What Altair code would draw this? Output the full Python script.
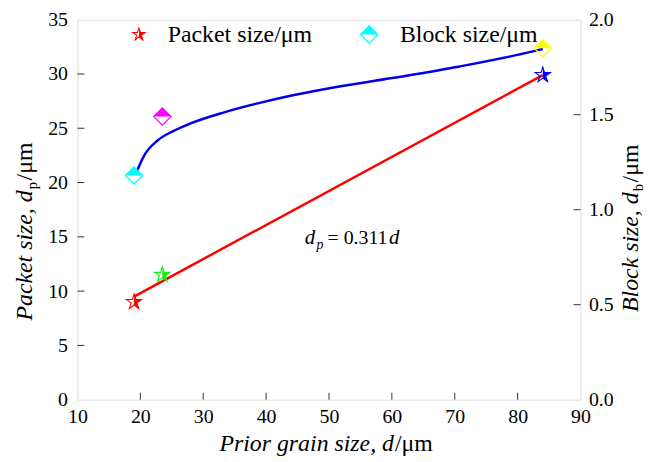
import altair as alt
import pandas as pd

# ---------------- data ----------------
grain = [19.0, 23.5, 84.0]
packet = [9.0, 11.5, 29.9]
block = [1.18, 1.49, 1.85]
star_colors = ["#ff0000", "#11ee11", "#0000ff"]
diamond_colors = ["#00ffff", "#ff00ff", "#ffff00"]

fit_x = [19.0, 84.0]
fit_packet = [9.5, 29.9]

curve_x = [19.5, 20.6, 22.7, 25.3, 27.9, 33.2, 38.5, 43.7, 49.0, 60.3, 70.8, 82.4, 84.0]
curve_block = [1.206, 1.285, 1.363, 1.415, 1.453, 1.511, 1.558, 1.598, 1.633, 1.694, 1.754, 1.833, 1.846]

x_ticks = [10, 20, 30, 40, 50, 60, 70, 80, 90]
left_ticks = [0, 5, 10, 15, 20, 25, 30, 35]
right_ticks = [0.0, 0.5, 1.0, 1.5, 2.0]

# ---------------- layout ----------------
W, H = 507, 383
FONT = "Liberation Serif, Times New Roman, Times, Noto Serif, DejaVu Serif, serif"
TICK = 7

STAR = ("M0,-1L0.2245,-0.309L0.951,-0.309L0.3633,0.118L0.588,0.809L0,0.382"
        "L-0.588,0.809L-0.3633,0.118L-0.951,-0.309L-0.2245,-0.309Z")
HALF_STAR = "M0,-1L0.2245,-0.309L0.951,-0.309L0.3633,0.118L0.588,0.809L0,0.382Z"
DIAMOND = "M0,-1L1,0L0,1L-1,0Z"
HALF_DIAMOND = "M0,-1L1,0L-1,0Z"

xs = alt.Scale(domain=[10, 90], nice=False, zero=False)
yl = alt.Scale(domain=[0, 35], nice=False)
yr = alt.Scale(domain=[0, 2], nice=False)

x_axis = alt.Axis(values=x_ticks, tickSize=0, domain=False, grid=False, title=None,
                  labelFont=FONT, labelFontSize=20, labelColor="black", labelPadding=7,
                  labelOverlap=False, labelFlush=False)
X = lambda f: alt.X(f, type="quantitative", scale=xs, axis=x_axis)

stars_df = pd.DataFrame({"grain": grain, "packet": packet, "c": star_colors})
diam_df = pd.DataFrame({"grain": grain, "block": block, "c": diamond_colors})
fit_df = pd.DataFrame({"grain": fit_x, "packet": fit_packet})
curve_df = pd.DataFrame({"grain": curve_x, "block": curve_block})

# inner ticks + axis labels
left_axis = alt.Chart(pd.DataFrame({"v": left_ticks[1:-1]})).mark_rule(color="#333", strokeWidth=1).encode(
    y=alt.Y("v:Q", scale=yl, axis=alt.Axis(orient="left", values=left_ticks, tickSize=0, domain=False,
                                           grid=False, title=None, labelFont=FONT, labelFontSize=20,
                                           labelColor="black", labelPadding=10, labelFlush=False)),
    x=alt.value(0), x2=alt.value(TICK))
right_axis = alt.Chart(pd.DataFrame({"v": right_ticks[1:-1]})).mark_rule(color="#333", strokeWidth=1).encode(
    y=alt.Y("v:Q", scale=yr, axis=alt.Axis(orient="right", values=right_ticks, format=".1f", tickSize=0,
                                           domain=False, grid=False, title=None, labelFont=FONT,
                                           labelFontSize=20, labelColor="black", labelPadding=8,
                                           labelFlush=False)),
    x=alt.value(W - TICK), x2=alt.value(W))
bottom_axis = alt.Chart(pd.DataFrame({"v": x_ticks[1:-1]})).mark_rule(color="#333", strokeWidth=1).encode(
    x=X("v"), y=alt.value(H), y2=alt.value(H - TICK))

fit_line = alt.Chart(fit_df).mark_line(color="#ff0000", strokeWidth=2.5).encode(
    x=X("grain"), y=alt.Y("packet:Q", scale=yl, axis=None))
curve_line = alt.Chart(curve_df).mark_line(color="#0000ee", strokeWidth=2.5, interpolate="monotone").encode(
    x=X("grain"), y=alt.Y("block:Q", scale=yr, axis=None))

star_out = alt.Chart(stars_df).mark_point(shape=STAR, filled=False, size=260, strokeWidth=1.1, opacity=1).encode(
    x=X("grain"), y=alt.Y("packet:Q", scale=yl, axis=None), color=alt.Color("c:N", scale=None))
star_in = alt.Chart(stars_df).mark_point(shape=HALF_STAR, filled=True, size=260, opacity=1).encode(
    x=X("grain"), y=alt.Y("packet:Q", scale=yl, axis=None), color=alt.Color("c:N", scale=None))
dia_out = alt.Chart(diam_df).mark_point(shape=DIAMOND, filled=False, size=300, strokeWidth=1.3, opacity=1).encode(
    x=X("grain"), y=alt.Y("block:Q", scale=yr, axis=None), color=alt.Color("c:N", scale=None))
dia_in = alt.Chart(diam_df).mark_point(shape=HALF_DIAMOND, filled=True, size=300, opacity=1).encode(
    x=X("grain"), y=alt.Y("block:Q", scale=yr, axis=None), color=alt.Color("c:N", scale=None))

# legend
one = pd.DataFrame({"a": [0]})
leg = [
    alt.Chart(one).mark_point(shape=STAR, filled=False, size=170, strokeWidth=1.1, color="#ff0000", opacity=1).encode(
        x=alt.value(62), y=alt.value(15)),
    alt.Chart(one).mark_point(shape=HALF_STAR, filled=True, size=170, color="#ff0000", opacity=1).encode(
        x=alt.value(62), y=alt.value(15)),
    alt.Chart(one).mark_text(text="Packet size/μm", font=FONT, fontSize=24, align="left", baseline="middle",
                             color="black").encode(x=alt.value(91), y=alt.value(16)),
    alt.Chart(one).mark_point(shape=DIAMOND, filled=False, size=300, strokeWidth=1.3, color="#00ffff", opacity=1).encode(
        x=alt.value(294), y=alt.value(15)),
    alt.Chart(one).mark_point(shape=HALF_DIAMOND, filled=True, size=300, color="#00ffff", opacity=1).encode(
        x=alt.value(294), y=alt.value(15)),
    alt.Chart(one).mark_text(text="Block size/μm", font=FONT, fontSize=24, align="left", baseline="middle",
                             color="black").encode(x=alt.value(325), y=alt.value(16)),
]

# annotation d_p = 0.311d
ann = [
    alt.Chart(one).mark_text(text="d", font=FONT, fontSize=21, fontStyle="italic", align="left",
                             baseline="alphabetic", color="black").encode(x=alt.value(229), y=alt.value(226)),
    alt.Chart(one).mark_text(text="p", font=FONT, fontSize=14, fontStyle="italic", align="left",
                             baseline="alphabetic", color="black").encode(x=alt.value(241), y=alt.value(231)),
    alt.Chart(one).mark_text(text="= 0.311", font=FONT, fontSize=20, align="left",
                             baseline="alphabetic", color="black").encode(x=alt.value(252), y=alt.value(226)),
    alt.Chart(one).mark_text(text="d", font=FONT, fontSize=21, fontStyle="italic", align="left",
                             baseline="alphabetic", color="black").encode(x=alt.value(314), y=alt.value(226)),
]

# axis titles (manual, to allow subscripts)
titles = [
    alt.Chart(one).mark_text(text="Prior grain size, d", font=FONT, fontSize=24, fontStyle="italic",
                             align="right", baseline="alphabetic", color="black").encode(
        x=alt.value(319), y=alt.value(435)),
    alt.Chart(one).mark_text(text=" /μm", font=FONT, fontSize=24, align="left", baseline="alphabetic",
                             color="black").encode(x=alt.value(320), y=alt.value(435)),
    # left
    alt.Chart(one).mark_text(text="Packet size, d", font=FONT, fontSize=24, fontStyle="italic", angle=270,
                             align="right", baseline="alphabetic", color="black").encode(
        x=alt.value(-46), y=alt.value(172)),
    alt.Chart(one).mark_text(text="p", font=FONT, fontSize=15, angle=270, align="left",
                             baseline="alphabetic", color="black").encode(x=alt.value(-41), y=alt.value(171)),
    alt.Chart(one).mark_text(text="/μm", font=FONT, fontSize=24, angle=270, align="left",
                             baseline="alphabetic", color="black").encode(x=alt.value(-46), y=alt.value(162)),
    # right
    alt.Chart(one).mark_text(text="Block size, d", font=FONT, fontSize=24, fontStyle="italic", angle=270,
                             align="right", baseline="alphabetic", color="black").encode(
        x=alt.value(565), y=alt.value(174)),
    alt.Chart(one).mark_text(text="b", font=FONT, fontSize=15, angle=270, align="left",
                             baseline="alphabetic", color="black").encode(x=alt.value(570), y=alt.value(173)),
    alt.Chart(one).mark_text(text="/μm", font=FONT, fontSize=24, angle=270, align="left",
                             baseline="alphabetic", color="black").encode(x=alt.value(565), y=alt.value(164)),
]

chart = alt.layer(
    left_axis, right_axis, bottom_axis, fit_line, curve_line,
    star_out, star_in, dia_out, dia_in, *leg, *ann, *titles
).resolve_scale(y="independent").properties(
    width=W, height=H,
    padding={"left": 70, "top": 10, "right": 66, "bottom": 58},
    autosize=alt.AutoSizeParams(type="none"),
).configure_view(stroke="#333", strokeWidth=1.2).configure(background="white")

chart.save("out.html", embed_options={"renderer": "svg", "actions": False})
